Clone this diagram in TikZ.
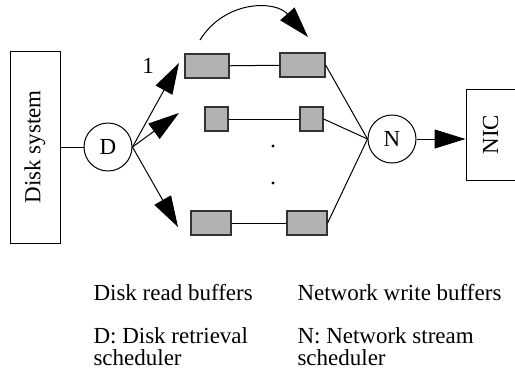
\documentclass[tikz,border=0pt]{standalone}
\usepackage{fontspec}
\setmainfont{Liberation Serif}
\usetikzlibrary{arrows.meta}
\begin{document}
\begin{tikzpicture}[x=1pt,y=-1pt,
  line width=1pt,
  every node/.style={font=\fontsize{23}{22}\selectfont, inner sep=0pt},
  buf/.style={draw=black!80, fill=black!30, line width=1.2pt, minimum height=24pt},
  sched/.style={draw, circle, minimum size=48pt},
  tri/.style={-{Triangle[length=31pt,width=19pt]}},
  caption/.style={anchor=base west}
]
\useasboundingbox (0,0) rectangle (515,376);

% end boxes
\node[draw, minimum width=50pt, minimum height=192pt] (disk) at (35,147) {};
\node[rotate=90] at (disk.center) {Disk system};
\node[draw, minimum width=49pt, minimum height=91pt] (nic) at (490.5,134.5) {};
\node[rotate=90] at (nic.center) {NIC};

% schedulers
\node[sched] (D) at (108,147) {D};
\node[sched] (N) at (392,139) {N};

% disk read buffers (left) and network write buffers (right)
\node[buf, minimum width=44pt] (r1) at (207,66) {};
\node[buf, minimum width=23pt] (r2) at (216.5,119) {};
\node[buf, minimum width=40pt] (r3) at (211,223) {};
\node[buf, minimum width=45pt] (w1) at (302.5,65) {};
\node[buf, minimum width=23pt] (w2) at (311.5,119) {};
\node[buf, minimum width=40pt] (w3) at (307,223) {};

\draw (r1) -- (w1);
\draw (r2) -- (w2);
\draw (r3) -- (w3);

% ellipsis between rows
\fill (273,146) circle (1.6pt);
\fill (273,183) circle (1.6pt);

% connections
\draw (disk.east |- D.west) -- (D.west);
\coordinate (t1) at (179,63);
\coordinate (t2) at (179,113);
\coordinate (t3) at (178,227);
\draw[tri] (D.east) -- (t1);
\draw[tri] (D.east) -- (t2);
\draw[tri] (D.east) -- (t3);
\node[anchor=base] at (148,73) {1};

\draw (w1.east) -- (N.west);
\draw (w2.east) -- (N.west);
\draw (w3.east) -- (N.west);
\draw[tri] (N.east) -- (nic.west |- N.east);

% transfer arc between buffers
\coordinate (a0) at (200,40);
\coordinate (a1) at (308,37);
\draw[tri] (a0) .. controls (225,0) and (275,0) .. (a1);

% captions
\node[caption] at (93,300) {Disk read buffers};
\node[caption] at (297,300) {Network write buffers};
\node[caption] at (93,343) {D: Disk retrieval};
\node[caption] at (93,365) {scheduler};
\node[caption] at (297,343) {N: Network stream};
\node[caption] at (297,365) {scheduler};
\end{tikzpicture}
\end{document}
